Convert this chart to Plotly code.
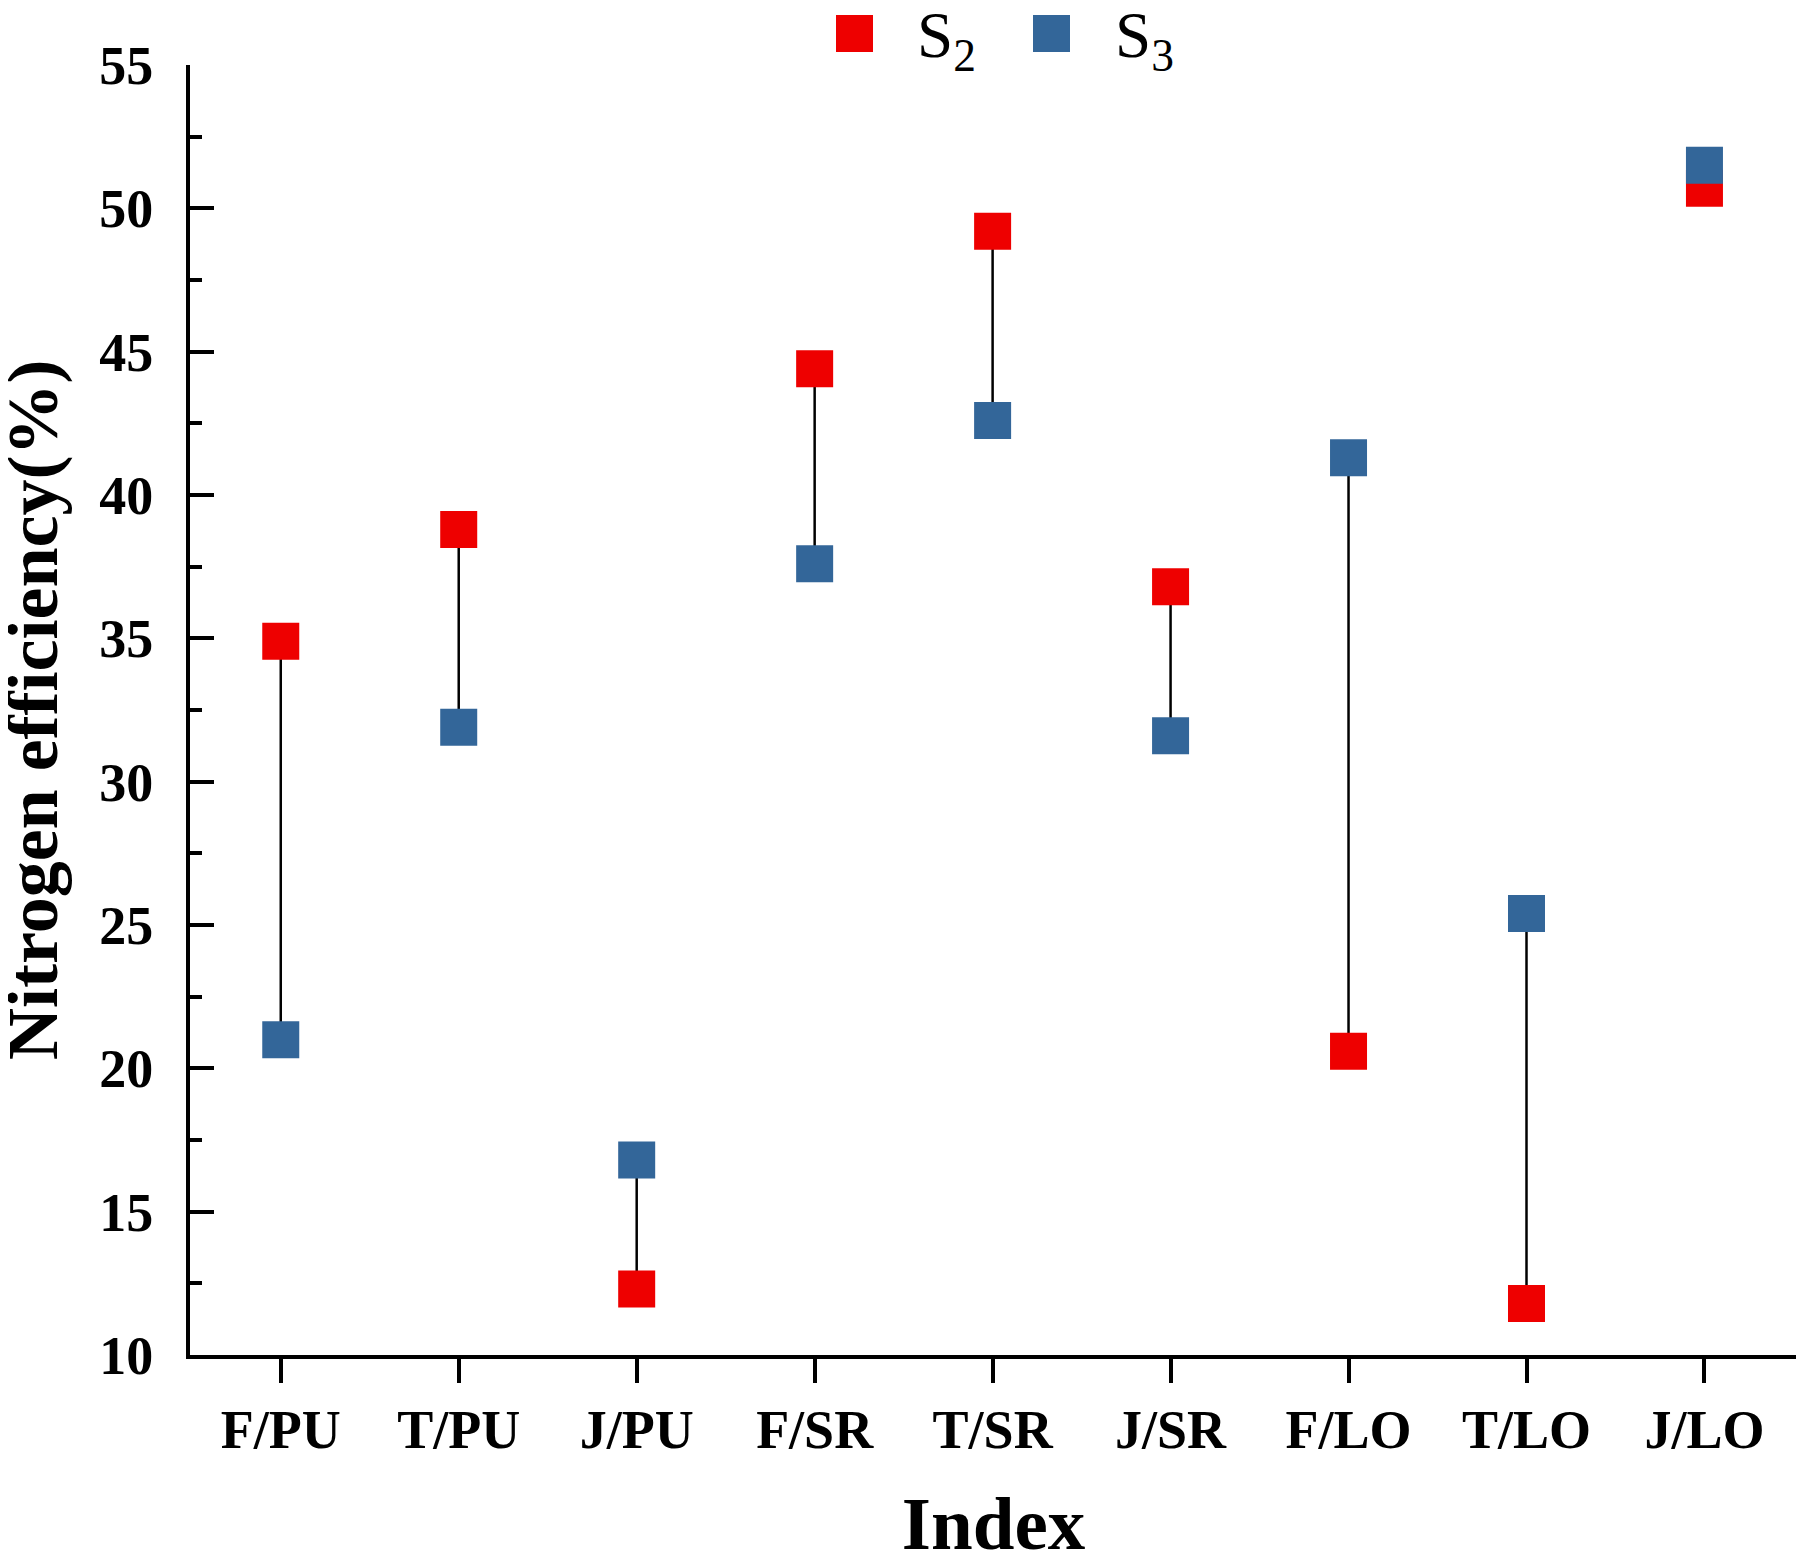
import plotly.graph_objects as go

# categories and values
categories = ["F/PU", "T/PU", "J/PU", "F/SR", "T/SR", "J/SR", "F/LO", "T/LO", "J/LO"]
s2_values = [34.9, 38.8, 12.3, 44.4, 49.2, 36.8, 20.6, 11.8, 50.7]
s3_values = [21.0, 31.9, 16.8, 37.6, 42.6, 31.6, 41.3, 25.4, 51.5]
series_names = ["S<sub>2</sub>", "S<sub>3</sub>"]
series_colors = ["#ee0000", "#336699"]

# page has an 8px body margin, so the figure is shrunk by that much
W, H = 1796, 1557
L, R, T, B = 182, 7, 57, 210
FONT = "Liberation Serif, Times New Roman, serif"

# connector lines between S2 and S3 for each category
line_x, line_y = [], []
for c, a, b in zip(categories, s2_values, s3_values):
    line_x += [c, c, None]
    line_y += [a, b, None]

fig = go.Figure()
fig.add_trace(go.Scatter(x=line_x, y=line_y, mode="lines",
                         line=dict(color="black", width=2.5),
                         showlegend=False, hoverinfo="skip"))
for name, vals, col in zip(series_names, [s2_values, s3_values], series_colors):
    fig.add_trace(go.Scatter(x=categories, y=vals, mode="markers", name=name,
                             marker=dict(symbol="square", size=37, color=col,
                                         line=dict(width=0)),
                             showlegend=False))

fig.update_layout(
    width=W, height=H, autosize=False,
    margin=dict(l=L, r=R, t=T, b=B, autoexpand=False),
    plot_bgcolor="white", paper_bgcolor="white",
    font=dict(family=FONT, color="black"),
)

fig.update_xaxes(
    type="category", range=[-0.51, 8.52], automargin=False,
    showline=True, linecolor="black", linewidth=4, mirror=False,
    ticks="outside", ticklen=24, tickwidth=4, tickcolor="black",
    showgrid=False, zeroline=False,
    tickfont=dict(family=FONT, size=54, weight="bold"),
    title=dict(text="Index", font=dict(family=FONT, size=75, weight="bold"), standoff=41),
)
fig.update_yaxes(
    range=[10, 55], dtick=5, tick0=10, automargin=False,
    showline=True, linecolor="black", linewidth=4, mirror=False,
    ticks="inside", ticklen=24, tickwidth=4, tickcolor="black",
    minor=dict(dtick=2.5, ticks="inside", ticklen=12, tickwidth=4, tickcolor="black"),
    showgrid=False, zeroline=False,
    ticklabelstandoff=22,
    tickfont=dict(family=FONT, size=54, weight="bold"),
)

# pixel -> paper helpers (figure space)
pw, ph = W - L - R, H - T - B


def px(x):
    return (x - L) / pw


def py(y):
    return (H - B - y) / ph


# y title sits closer to the edge than plotly's axis title allows
fig.add_annotation(xref="paper", yref="paper", x=px(25), y=0.5,
                   xanchor="center", yanchor="middle", textangle=-90,
                   showarrow=False, text="Nitrogen efficiency(%)",
                   font=dict(family=FONT, size=72, weight="bold", color="black"))

# legend drawn at the top centre
legend_items = [(828, 907), (1025, 1105)]
for (sx, tx), name, col in zip(legend_items, series_names, series_colors):
    fig.add_shape(type="rect", xref="paper", yref="paper",
                  x0=px(sx), x1=px(sx + 37), y0=py(44), y1=py(7),
                  fillcolor=col, line=dict(width=0))
    fig.add_annotation(xref="paper", yref="paper", x=px(tx), y=py(32),
                       xanchor="left", yanchor="middle", showarrow=False,
                       text=name, font=dict(family=FONT, size=65, color="black"))

fig.write_html("out.html")
